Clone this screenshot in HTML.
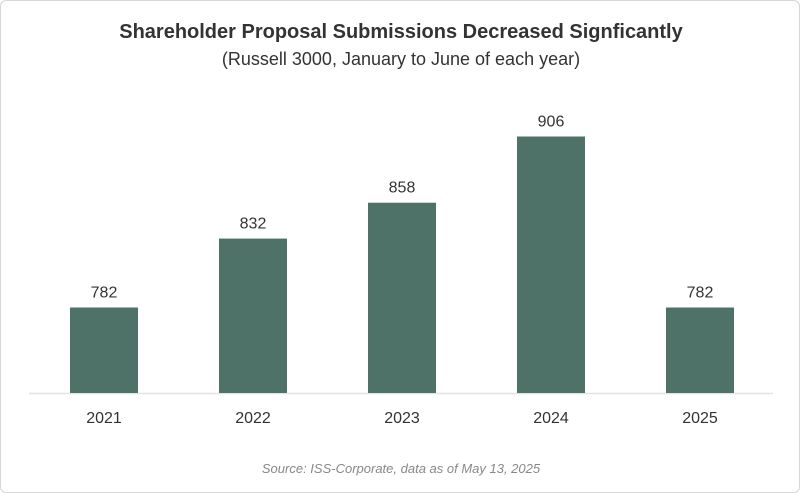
<!DOCTYPE html>
<html><head><meta charset="utf-8"><style>
body{margin:0;background:#fff;}
#wrap{position:relative;width:798px;height:491px;border:1px solid #d6d6d6;border-radius:6px;overflow:hidden;font-family:"Liberation Sans",sans-serif;}
.t{position:absolute;left:0;width:800px;text-align:center;color:#333;}
</style></head><body>
<div id="wrap">
<div class="t" style="top:20px;font-size:20px;font-weight:bold;">Shareholder Proposal Submissions Decreased Signficantly</div>
<div class="t" style="top:48px;font-size:18px;">(Russell 3000, January to June of each year)</div>
<svg id="chart" width="800" height="493" style="position:absolute;left:0;top:0"></svg>
<div class="t" style="top:460px;font-size:13px;font-style:italic;color:#888;">Source: ISS-Corporate, data as of May 13, 2025</div>
</div>
<script>
const categories=["2021","2022","2023","2024","2025"];
const values=[782,832,858,906,782];
const valueLabels=["782","832","858","906","782"];
const svg=document.getElementById('chart');
const NS='http://www.w3.org/2000/svg';
const base=392, yMin=720, pxPer=1.379;
const y=v=>base-(v-yMin)*pxPer;
const x=i=>69+i*149;
const bw=68;
const axis=document.createElementNS(NS,'line');


axis.setAttribute('x1',28);axis.setAttribute('x2',772);axis.setAttribute('y1',base+0.5);axis.setAttribute('y2',base+0.5);
axis.setAttribute('stroke','#e2e2e2');axis.setAttribute('stroke-width','1.5');
svg.appendChild(axis);
categories.forEach((c,i)=>{
  const r=document.createElementNS(NS,'rect');
  
  
  r.setAttribute('x',x(i));r.setAttribute('width',bw);
  r.setAttribute('y',y(values[i]));r.setAttribute('height',base-y(values[i]));
  r.setAttribute('fill','#4e7268');
  svg.appendChild(r);
  const vl=document.createElementNS(NS,'text');
  
  
  vl.setAttribute('x',x(i)+bw/2);vl.setAttribute('y',y(values[i])-10);
  vl.setAttribute('text-anchor','middle');vl.setAttribute('font-size','16');vl.setAttribute('fill','#333');
  vl.setAttribute('font-family','Liberation Sans, sans-serif');
  vl.textContent=valueLabels[i];
  svg.appendChild(vl);
  const cl=document.createElementNS(NS,'text');
  
  
  cl.setAttribute('x',x(i)+bw/2);cl.setAttribute('y',base+30);
  cl.setAttribute('text-anchor','middle');cl.setAttribute('font-size','16');cl.setAttribute('fill','#333');
  cl.setAttribute('font-family','Liberation Sans, sans-serif');
  cl.textContent=c;
  svg.appendChild(cl);
});
</script>
</body></html>
